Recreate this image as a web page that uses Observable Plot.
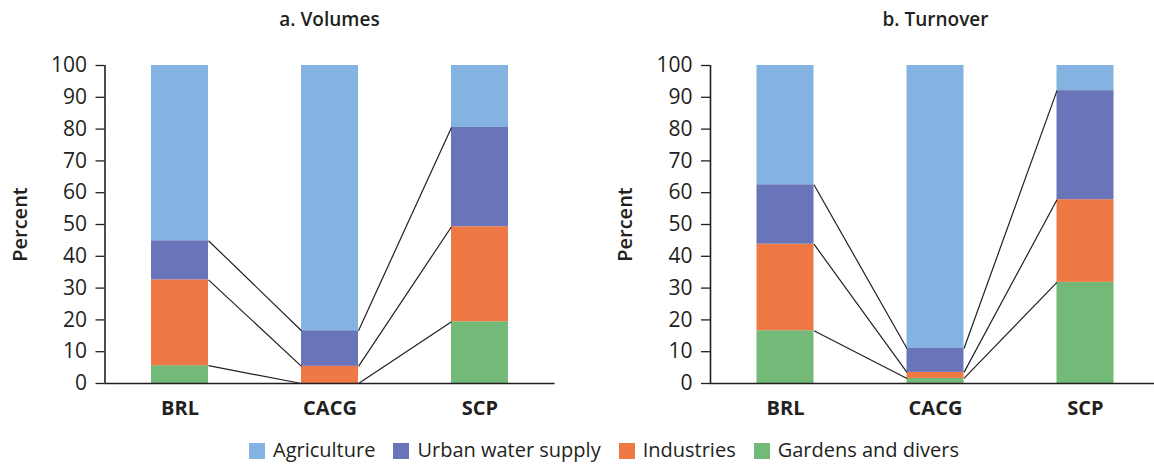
<!DOCTYPE html>
<html>
<head>
<meta charset="utf-8">
<script src="https://cdn.jsdelivr.net/npm/d3@7"></script>
<script src="https://cdn.jsdelivr.net/npm/@observablehq/plot@0.6"></script>
<style>
  html, body { margin: 0; padding: 0; background: #fff; }
  body { width: 1154px; height: 464px; overflow: hidden; position: relative; font-family: "Open Sans", sans-serif; color: #231f20; }
  .panel { position: absolute; top: 40px; }
  .panel svg { max-width: none !important; }
  .title { position: absolute; top: 10px; font-size: 19px; line-height: 19px; font-weight: 600; transform: translateX(-50%); white-space: nowrap; }
  .legend { position: absolute; top: 440px; left: 249px; display: flex; align-items: center; font-size: 20px; line-height: 20px; white-space: nowrap; }
  .legend .item { display: flex; align-items: center; margin-right: 18px; }
  .legend .sw { width: 16px; height: 16px; margin-right: 8px; margin-top: 2px; }
</style>
</head>
<body>
<div class="title" style="left:329.5px">a. Volumes</div>
<div class="title" style="left:935.5px">b. Turnover</div>
<div id="pa" class="panel" style="left:0px; width:577px"></div>
<div id="pb" class="panel" style="left:577px; width:583px"></div>
<div id="legend" class="legend"></div>
<script>
// ---- data ----
const categories = ["BRL", "CACG", "SCP"];
// stacking order bottom → top
const sectors = ["Gardens and divers", "Industries", "Urban water supply", "Agriculture"];
const legendOrder = ["Agriculture", "Urban water supply", "Industries", "Gardens and divers"];
const sectorColors = ["#73b977", "#ee7944", "#6a74b8", "#84b3e2"];

// a. Volumes (percent)
const volGardens     = [5.6, 0.0, 19.4];
const volIndustries  = [27.0, 5.4, 29.9];
const volUrban       = [12.3, 11.2, 31.2];
const volAgriculture = [55.1, 83.4, 19.5];

// b. Turnover (percent)
const turnGardens     = [16.6, 1.6, 31.8];
const turnIndustries  = [27.2, 1.9, 26.0];
const turnUrban       = [18.7, 7.5, 34.3];
const turnAgriculture = [37.5, 89.0, 7.9];

const yTicks = [0, 10, 20, 30, 40, 50, 60, 70, 80, 90, 100];

// ---- build ----
const barPad = 0.31; // band padding (each side) in category-index units
const ink = "#231f20";

function buildRows(series) {
  const rows = [];
  const cum = [];
  categories.forEach((cat, i) => {
    let acc = 0;
    const c = [];
    series.forEach((vals, k) => {
      rows.push({cat, i, sector: sectors[k], y1: acc, y2: acc + vals[i]});
      acc += vals[i];
      c.push(acc);
    });
    cum.push(c);
  });
  const links = [];
  for (let i = 0; i < categories.length - 1; i++) {
    for (let k = 0; k < sectors.length - 1; k++) {
      links.push({x1: i + 1 - barPad, y1: cum[i][k], x2: i + 1 + barPad, y2: cum[i + 1][k]});
    }
  }
  return {rows, links};
}

function panel(series, {marginLeft, marginRight, width}) {
  const {rows, links} = buildRows(series);
  return Plot.plot({
    width,
    height: 388,
    marginTop: 25,
    marginBottom: 45,
    marginLeft,
    marginRight,
    style: {fontFamily: "'Open Sans', sans-serif", color: ink, background: "transparent", overflow: "visible", maxWidth: "none"},
    x: {domain: [0, categories.length], axis: null},
    y: {domain: [0, 100], axis: null},
    color: {domain: sectors, range: sectorColors},
    marks: [
      Plot.rectY(rows, {x1: d => d.i + barPad, x2: d => d.i + 1 - barPad, y1: "y1", y2: "y2", fill: "sector"}),
      Plot.link(links, {x1: "x1", y1: "y1", x2: "x2", y2: "y2", stroke: ink, strokeWidth: 1.2}),
      Plot.ruleY([0], {stroke: ink, strokeWidth: 1.6}),
      Plot.ruleX([0], {stroke: ink, strokeWidth: 1.6}),
      Plot.axisY({ticks: yTicks, tickSize: 9, tickPadding: 9, fontSize: 21, label: null, stroke: ink, strokeWidth: 1.3}),
      Plot.axisX({ticks: categories.map((c, i) => i + 0.5), tickFormat: v => categories[Math.floor(v)], tickSize: 0, tickPadding: 17, fontSize: 20, fontWeight: "bold", label: null}),
      Plot.text(["Percent"], {frameAnchor: "left", rotate: -90, dx: -84.5, fontSize: 20, fontWeight: 600, fill: ink, textAnchor: "middle"})
    ]
  });
}

document.getElementById("pa").appendChild(
  panel([volGardens, volIndustries, volUrban, volAgriculture], {marginLeft: 104.5, marginRight: 22.5, width: 577})
);
document.getElementById("pb").appendChild(
  panel([turnGardens, turnIndustries, turnUrban, turnAgriculture], {marginLeft: 133, marginRight: 0, width: 583})
);

// legend
const legend = document.getElementById("legend");
legendOrder.forEach(name => {
  const item = document.createElement("div");
  item.className = "item";
  const sw = document.createElement("div");
  sw.className = "sw";
  sw.style.background = sectorColors[sectors.indexOf(name)];
  const t = document.createElement("span");
  t.textContent = name;
  item.appendChild(sw);
  item.appendChild(t);
  legend.appendChild(item);
});
</script>
</body>
</html>
